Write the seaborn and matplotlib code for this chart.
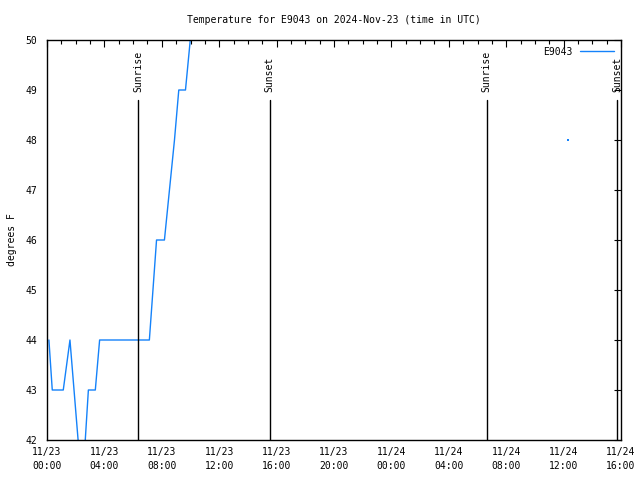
import pandas as pd
import numpy as np
import matplotlib
matplotlib.use("Agg")
import matplotlib.pyplot as plt
import matplotlib.dates as mdates
import seaborn as sns

# ---- data ----
times = ["2024-11-23 00:08", "2024-11-23 00:22", "2024-11-23 01:08", "2024-11-23 01:36",
         "2024-11-23 02:27", "2024-11-23 02:53", "2024-11-23 03:22", "2024-11-23 03:40",
         "2024-11-23 07:08", "2024-11-23 07:38", "2024-11-23 08:11", "2024-11-23 08:53",
         "2024-11-23 09:11", "2024-11-23 09:39", "2024-11-23 09:59", "2024-11-23 10:20"]
temps = [44, 43, 43, 44, 41, 43, 43, 44, 44, 46, 46, 48, 49, 49, 50, 51]
lone_time = ["2024-11-24 12:18"]
lone_temp = [48]
sun_times = ["2024-11-23 06:22", "2024-11-23 15:31", "2024-11-24 06:38", "2024-11-24 15:43"]
sun_labels = ["Sunrise", "Sunset", "Sunrise", "Sunset"]
series_name = "E9043"
title = "Temperature for E9043 on 2024-Nov-23 (time in UTC)"

df = pd.DataFrame({"time": pd.to_datetime(times), "temp": temps})
lone = pd.DataFrame({"time": pd.to_datetime(lone_time), "temp": lone_temp})

sns.set_style("white")
plt.rcParams["font.family"] = ["DejaVu Sans Mono"]
plt.rcParams["text.color"] = "black"
plt.rcParams["axes.labelcolor"] = "black"
color = "#1482fa"

fig = plt.figure(figsize=(6.4, 4.8), dpi=100)
ax = fig.add_axes([47/640, 40/480, 574/640, 400/480])

sns.lineplot(data=df, x="time", y="temp", ax=ax, color=color, linewidth=1,
             label=series_name)
sns.scatterplot(data=lone, x="time", y="temp", ax=ax, color=color, s=2,
                marker="s", linewidth=0, legend=False)

for t, lab in zip(sun_times, sun_labels):
    tt = pd.Timestamp(t)
    ax.axvline(tt, ymin=0, ymax=0.85, color="black", linewidth=1)
    ax.text(tt, 0.87, lab, transform=ax.get_xaxis_transform(), rotation=90,
            ha="center", va="bottom", fontsize=7, color="black")

ax.set_xlim(pd.Timestamp("2024-11-23 00:00"), pd.Timestamp("2024-11-24 16:00"))
ax.set_ylim(42, 50)
ax.xaxis.set_major_locator(mdates.HourLocator(byhour=range(0, 24, 4)))
ax.xaxis.set_minor_locator(mdates.HourLocator())
ax.xaxis.set_major_formatter(mdates.DateFormatter("%m/%d\n%H:%M"))
ax.set_yticks(range(42, 51))

ax.tick_params(axis="both", which="both", direction="in", top=True, right=True,
               labelsize=7, colors="black")
ax.tick_params(which="major", length=5, width=0.8)
ax.tick_params(which="minor", length=3, width=0.8)
ax.tick_params(axis="x", pad=5)
ax.tick_params(axis="y", pad=7)
for s in ax.spines.values():
    s.set_color("black")
    s.set_linewidth(1)

fig.canvas.draw()
for lbl in ax.get_xticklabels():
    lbl.set_linespacing(1.5)

ax.set_xlabel("")
ax.set_ylabel("degrees F", fontsize=7, labelpad=6, color="black")
ax.set_title(title, fontsize=7, pad=12, color="black")

leg = ax.legend(loc="upper right", frameon=False, markerfirst=False, fontsize=7,
                handlelength=3.5, borderaxespad=0.3)
for t in leg.get_texts():
    t.set_color("black")

fig.savefig("out.png", dpi=100)
